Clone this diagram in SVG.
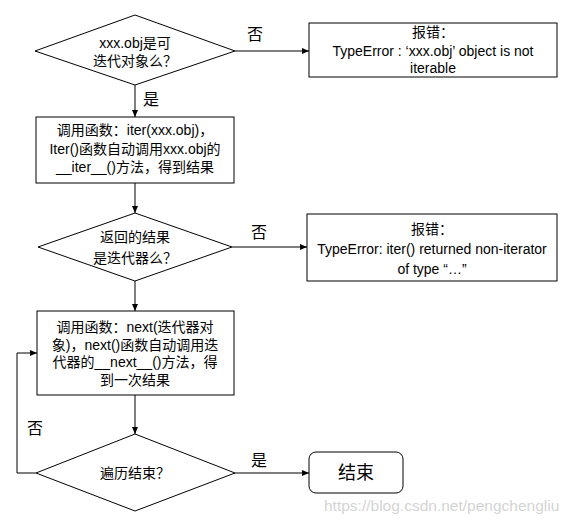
<svg xmlns="http://www.w3.org/2000/svg" width="574" height="523" viewBox="0 0 574 523">
<style>
.s{fill:#fff;stroke:#000;stroke-width:1}
.c{fill:none;stroke:#000;stroke-width:1}
text{font-family:"Liberation Sans","Noto Sans CJK SC",sans-serif;font-size:14px;fill:#000;text-anchor:middle}
.lb{font-size:16px}
.wm{font-size:15.5px;fill:#d4d4d4;text-anchor:start}
</style>
<defs>
<marker id="a" markerWidth="8" markerHeight="8" refX="7" refY="4" orient="auto" markerUnits="userSpaceOnUse">
<path d="M0,1 L7,4 L0,7 Z" fill="#000"/>
</marker>
</defs>
<rect width="574" height="523" fill="#fff"/>
<g id="connectors">
<line class="c" x1="235" y1="51" x2="309" y2="51" marker-end="url(#a)"/>
<line class="c" x1="135" y1="85" x2="135" y2="117" marker-end="url(#a)"/>
<line class="c" x1="135" y1="183" x2="135" y2="213" marker-end="url(#a)"/>
<line class="c" x1="232" y1="247" x2="307" y2="247" marker-end="url(#a)"/>
<line class="c" x1="135" y1="281" x2="135" y2="311" marker-end="url(#a)"/>
<line class="c" x1="135" y1="395" x2="135" y2="434" marker-end="url(#a)"/>
<line class="c" x1="235" y1="473" x2="309" y2="473" marker-end="url(#a)"/>
<polyline class="c" points="36,473 17,473 17,353 37,353" marker-end="url(#a)"/>
<text class="lb" x="255" y="40">否</text>
<text class="lb" x="151" y="105">是</text>
<text class="lb" x="259" y="238">否</text>
<text class="lb" x="35" y="434">否</text>
<text class="lb" x="259" y="466">是</text>
</g>
<g id="d1">
<polygon class="s" points="135,15 235,51 135,85 35,51"/>
<text x="135" y="48">xxx.obj是可</text>
<text x="135" y="66">迭代对象么？</text>
</g>
<g id="err1">
<rect class="s" x="309" y="23" width="248" height="54"/>
<text x="433" y="37">报错：</text>
<text x="433" y="56">TypeError : ‘xxx.obj’ object is not</text>
<text x="433" y="73">iterable</text>
</g>
<g id="b1">
<rect class="s" x="36" y="117" width="198" height="66"/>
<text x="135" y="135">调用函数：iter(xxx.obj)，</text>
<text x="135" y="154">Iter()函数自动调用xxx.obj的</text>
<text x="135" y="172">__iter__()方法，得到结果</text>
</g>
<g id="d2">
<polygon class="s" points="135,213 232,247 135,281 38,247"/>
<text x="135" y="242">返回的结果</text>
<text x="135" y="263">是迭代器么？</text>
</g>
<g id="err2">
<rect class="s" x="307" y="214" width="250" height="67"/>
<text x="432" y="234">报错：</text>
<text x="432" y="254">TypeError: iter() returned non-iterator</text>
<text x="432" y="274">of type “…”</text>
</g>
<g id="b2">
<rect class="s" x="37" y="311" width="197" height="84"/>
<text x="135" y="332">调用函数：next(迭代器对</text>
<text x="135" y="350">象)，next()函数自动调用迭</text>
<text x="135" y="367">代器的__next__()方法，得</text>
<text x="135" y="385">到一次结果</text>
</g>
<g id="d3">
<polygon class="s" points="135,434 235,473 135,511 36,473"/>
<text x="135" y="478">遍历结束？</text>
</g>
<g id="end">
<rect class="s" x="309" y="452" width="94" height="41" rx="7"/>
<text x="356" y="479" style="font-size:18px">结束</text>
</g>
<text class="wm" x="324" y="511">https://blog.csdn.net/pengchengliu</text>
</svg>
